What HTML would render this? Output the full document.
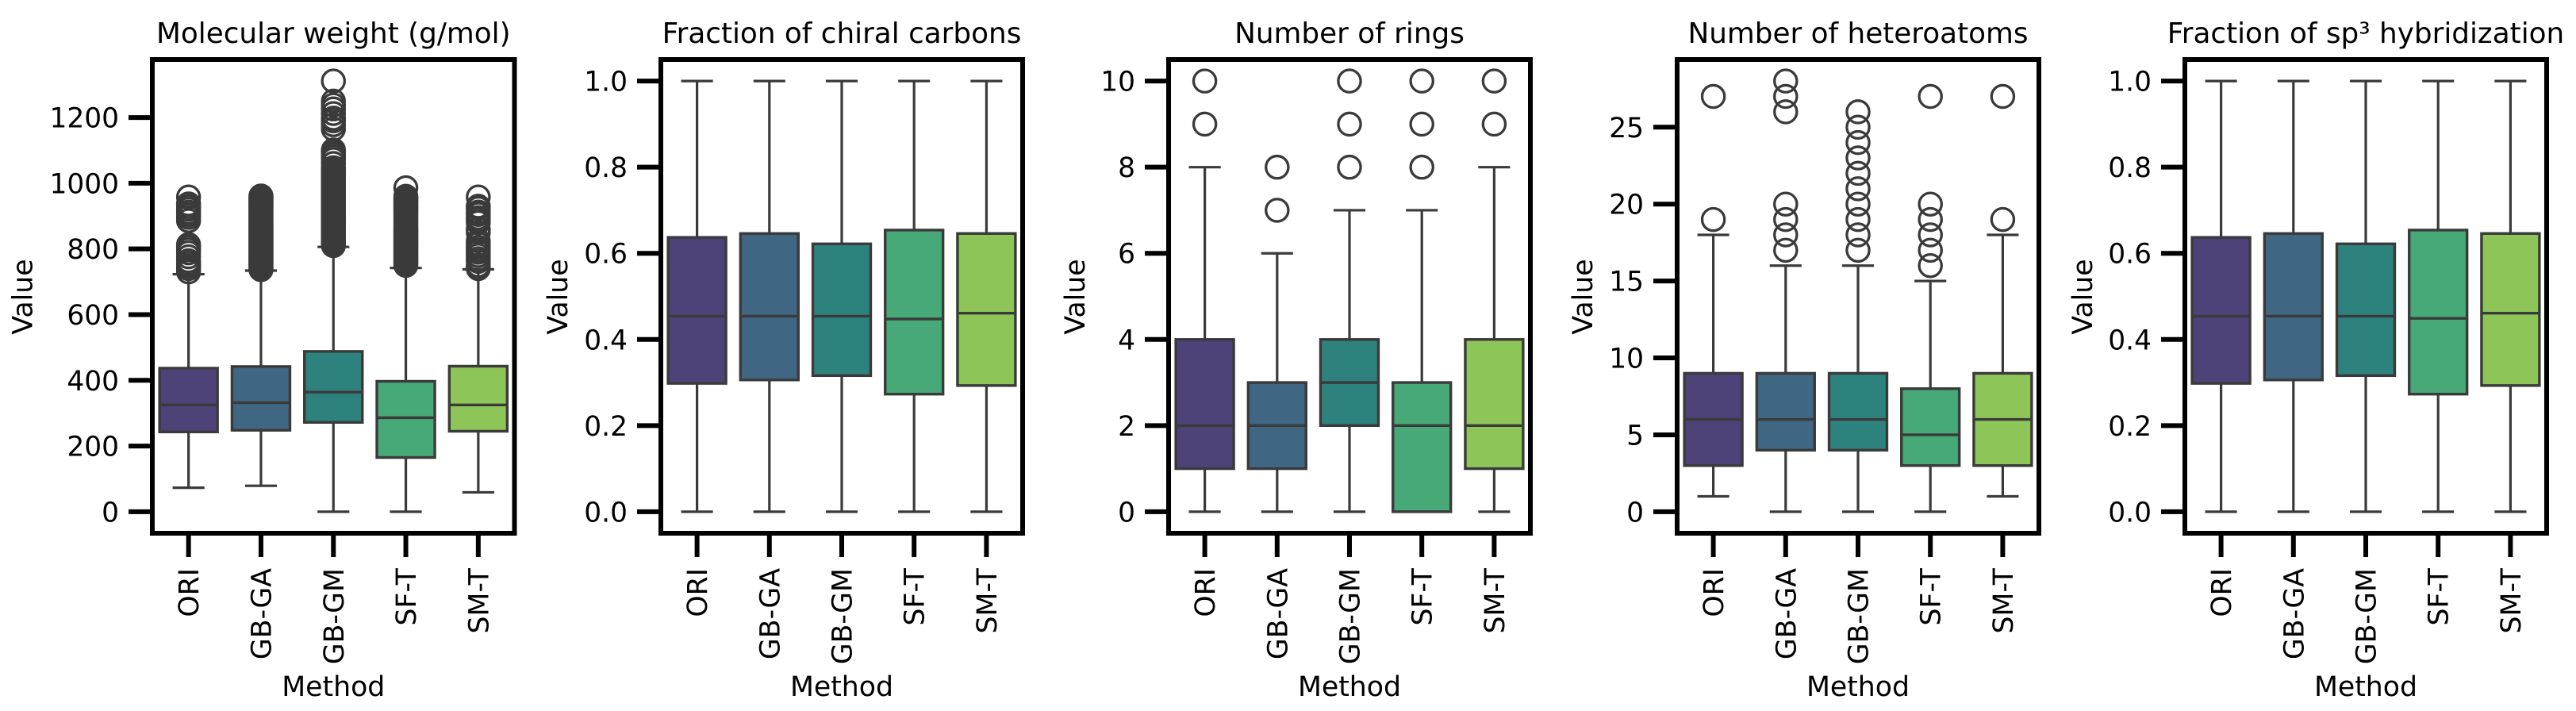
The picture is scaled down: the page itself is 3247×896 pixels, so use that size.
<!DOCTYPE html>
<html lang="en">
<head>
<meta charset="utf-8">
<title>Molecular property box plots by method</title>
<style>
  html, body { margin: 0; padding: 0; background: #fff; width: 3247px; height: 896px; overflow: hidden; }
  svg { display: block; }
  text { font-family: "DejaVu Sans", "Liberation Sans", sans-serif; fill: #000; }
  .title { font-size: 35.8px; text-anchor: middle; }
  .axis-label { font-size: 34.7px; text-anchor: middle; }
  .frame { fill: none; stroke: #000; stroke-width: 6; }
</style>
</head>
<body>
<svg id="figure" width="3247" height="896" viewBox="0 0 3247 896" xmlns="http://www.w3.org/2000/svg">
  <rect x="0" y="0" width="3247" height="896" fill="#fff"/>

  <g id="panel-weight">
    <text class="title" x="420.3" y="54">Molecular weight (g/mol)</text>
    <text class="axis-label" x="420.3" y="877">Method</text>
    <text class="axis-label" transform="translate(40.5 374) rotate(-90)">Value</text>
  </g>
  <g id="panel-chiral">
    <text class="title" x="1061" y="54">Fraction of chiral carbons</text>
    <text class="axis-label" x="1061" y="877">Method</text>
    <text class="axis-label" transform="translate(715 374) rotate(-90)">Value</text>
  </g>
  <g id="panel-rings">
    <text class="title" x="1701" y="54">Number of rings</text>
    <text class="axis-label" x="1701" y="877">Method</text>
    <text class="axis-label" transform="translate(1367 374) rotate(-90)">Value</text>
  </g>
  <g id="panel-hetero">
    <text class="title" x="2342" y="54">Number of heteroatoms</text>
    <text class="axis-label" x="2342" y="877">Method</text>
    <text class="axis-label" transform="translate(2007 374) rotate(-90)">Value</text>
  </g>
  <g id="panel-sp3">
    <text class="title" x="2982" y="54">Fraction of sp³ hybridization</text>
    <text class="axis-label" x="2982" y="877">Method</text>
    <text class="axis-label" transform="translate(2637 374) rotate(-90)">Value</text>
  </g>
</svg>

<script>
// ---------- shared categories ----------
const categories = ["ORI", "GB-GA", "GB-GM", "SF-T", "SM-T"];

// ---------- molecular weight ----------
const weightDomain = [-65.5, 1376.5];
const weightTicks = [0, 200, 400, 600, 800, 1000, 1200];
const weightLow = [73, 79, 0, 0, 59];
const weightQ1 = [243, 248, 272, 165, 245];
const weightMedian = [325, 332, 364, 286, 325];
const weightQ3 = [437, 442, 488, 397, 443];
const weightHigh = [723, 734, 806, 742, 738];
const weightOutliersOri = [958, 937, 929, 921, 912, 904, 896, 886, 813, 805, 797, 788, 776, 764, 756, 748, 740, 730];
const weightOutliersGa = [961, 958, 955, 951, 947, 943, 939, 934, 930, 926, 922, 918, 913, 909, 905, 900, 896, 892, 887, 883, 879, 874, 870, 866, 862, 857, 853, 849, 845, 841, 836, 832, 828, 824, 820, 815, 811, 807, 803, 799, 795, 790, 786, 782, 778, 774, 770, 765, 761, 757, 753, 749, 745, 741, 737];
const weightOutliersGm = [1311, 1250, 1238, 1226, 1212, 1198, 1190, 1178, 1165, 1101, 1095, 1088, 1080, 1072, 1060, 1047, 1040, 1033, 1026, 1020, 1014, 1008, 1002, 996, 990, 984, 978, 972, 966, 960, 954, 948, 942, 936, 930, 924, 918, 912, 906, 900, 894, 888, 882, 876, 870, 864, 858, 852, 846, 840, 834, 828, 822, 816, 810];
const weightOutliersSf = [986, 960, 955, 949, 944, 938, 932, 926, 921, 915, 908, 902, 896, 889, 884, 878, 871, 866, 860, 855, 850, 845, 840, 835, 830, 825, 820, 815, 810, 805, 800, 795, 790, 785, 780, 775, 770, 765, 760, 755, 750];
const weightOutliersSm = [958, 930, 923, 912, 905, 895, 888, 880, 860, 850, 825, 815, 805, 797, 790, 780, 770, 762, 750, 745, 740];

// ---------- fraction of chiral carbons ----------
const chiralDomain = [-0.05, 1.05];
const chiralTicks = ["0.0", "0.2", "0.4", "0.6", "0.8", "1.0"];
const chiralLow = [0, 0, 0, 0, 0];
const chiralQ1 = [0.298, 0.306, 0.316, 0.273, 0.293];
const chiralMedian = [0.454, 0.454, 0.454, 0.4475, 0.461];
const chiralQ3 = [0.637, 0.646, 0.622, 0.654, 0.646];
const chiralHigh = [1, 1, 1, 1, 1];

// ---------- number of rings ----------
const ringsDomain = [-0.5, 10.5];
const ringsTicks = [0, 2, 4, 6, 8, 10];
const ringsLow = [0, 0, 0, 0, 0];
const ringsQ1 = [1, 1, 2, 0, 1];
const ringsMedian = [2, 2, 3, 2, 2];
const ringsQ3 = [4, 3, 4, 3, 4];
const ringsHigh = [8, 6, 7, 7, 8];
const ringsOutliersOri = [9, 10];
const ringsOutliersGa = [7, 8];
const ringsOutliersGm = [8, 9, 10];
const ringsOutliersSf = [8, 9, 10];
const ringsOutliersSm = [9, 10];

// ---------- number of heteroatoms ----------
const heteroDomain = [-1.4, 29.4];
const heteroTicks = [0, 5, 10, 15, 20, 25];
const heteroLow = [1, 0, 0, 0, 1];
const heteroQ1 = [3, 4, 4, 3, 3];
const heteroMedian = [6, 6, 6, 5, 6];
const heteroQ3 = [9, 9, 9, 8, 9];
const heteroHigh = [18, 16, 16, 15, 18];
const heteroOutliersOri = [19, 27];
const heteroOutliersGa = [17, 18, 19, 20, 26, 27, 28];
const heteroOutliersGm = [17, 18, 19, 20, 21, 22, 23, 24, 25, 26];
const heteroOutliersSf = [16, 17, 18, 19, 20, 27];
const heteroOutliersSm = [19, 27];

// ---------- fraction of sp3 hybridization ----------
const sp3Domain = [-0.05, 1.05];
const sp3Ticks = ["0.0", "0.2", "0.4", "0.6", "0.8", "1.0"];
const sp3Low = [0, 0, 0, 0, 0];
const sp3Q1 = [0.298, 0.306, 0.316, 0.273, 0.293];
const sp3Median = [0.454, 0.454, 0.454, 0.449, 0.461];
const sp3Q3 = [0.637, 0.646, 0.622, 0.654, 0.646];
const sp3High = [1, 1, 1, 1, 1];

// ---------- drawing ----------
const boxColors = ["#4d4379", "#3f6682", "#2e827e", "#47a977", "#8ec558"];
const lineColor = "#3a3a3a";
const SVG_NS = "http://www.w3.org/2000/svg";

function make(parent, tag, attrs) {
  const el = document.createElementNS(SVG_NS, tag);
  for (const key in attrs) el.setAttribute(key, attrs[key]);
  parent.appendChild(el);
  return el;
}

function drawPanel(panelId, left, right, domain, ticks, low, q1, median, q3, high, outliers) {
  const group = document.getElementById(panelId);
  const top = 75, bottom = 672;
  const band = (right - left) / categories.length;
  const xAxis = function (i) { return left + (i + 0.5) * band; };
  const yAxis = function (v) { return bottom - (Number(v) - domain[0]) / (domain[1] - domain[0]) * (bottom - top); };

  categories.forEach(function (category, i) {
    const cx = xAxis(i);
    const boxHalf = band * 0.4;
    const capHalf = band * 0.22;

    const whiskerLow = make(group, "line", { x1: cx, x2: cx, y1: yAxis(q1[i]), y2: yAxis(low[i]), stroke: lineColor, "stroke-width": 3.2 });
    
    

    const whiskerHigh = make(group, "line", { x1: cx, x2: cx, y1: yAxis(q3[i]), y2: yAxis(high[i]), stroke: lineColor, "stroke-width": 3.2 });
    
    

    const capLow = make(group, "line", { x1: cx - capHalf, x2: cx + capHalf, y1: yAxis(low[i]), y2: yAxis(low[i]), stroke: lineColor, "stroke-width": 3.2 });
    
    

    const capHigh = make(group, "line", { x1: cx - capHalf, x2: cx + capHalf, y1: yAxis(high[i]), y2: yAxis(high[i]), stroke: lineColor, "stroke-width": 3.2 });
    
    

    const box = make(group, "rect", { x: cx - boxHalf, y: yAxis(q3[i]), width: boxHalf * 2, height: yAxis(q1[i]) - yAxis(q3[i]), fill: boxColors[i], stroke: lineColor, "stroke-width": 3.4 });
    
    

    const medianLine = make(group, "line", { x1: cx - boxHalf, x2: cx + boxHalf, y1: yAxis(median[i]), y2: yAxis(median[i]), stroke: lineColor, "stroke-width": 3.4 });
    
    

    (outliers[i] || []).forEach(function (value) {
      const dot = make(group, "circle", { cx: cx, cy: yAxis(value), r: 14.1, fill: "none", stroke: lineColor, "stroke-width": 3.3 });
      
      
    });

    const xTick = make(group, "line", { x1: cx, x2: cx, y1: bottom + 3, y2: bottom + 30, stroke: "#000", "stroke-width": 6 });
    
    

    const xLabel = make(group, "text", { transform: "translate(" + (cx + 12.5) + " 716) rotate(-90)", "text-anchor": "end", "font-size": 34.7 });
    xLabel.textContent = category;
    
    
  });

  ticks.forEach(function (tick) {
    const y = yAxis(tick);
    const yTick = make(group, "line", { x1: left - 30, x2: left - 3, y1: y, y2: y, stroke: "#000", "stroke-width": 6 });
    
    

    const yLabel = make(group, "text", { x: left - 42, y: y + 12.5, "text-anchor": "end", "font-size": 34.4 });
    yLabel.textContent = String(tick);
    
    
  });

  const frame = make(group, "rect", { class: "frame", x: left, y: top, width: right - left, height: bottom - top });
  
  
}

drawPanel("panel-weight", 192, 648.5, weightDomain, weightTicks, weightLow, weightQ1, weightMedian, weightQ3, weightHigh,
  [weightOutliersOri, weightOutliersGa, weightOutliersGm, weightOutliersSf, weightOutliersSm]);
drawPanel("panel-chiral", 833, 1289, chiralDomain, chiralTicks, chiralLow, chiralQ1, chiralMedian, chiralQ3, chiralHigh,
  [[], [], [], [], []]);
drawPanel("panel-rings", 1473, 1929, ringsDomain, ringsTicks, ringsLow, ringsQ1, ringsMedian, ringsQ3, ringsHigh,
  [ringsOutliersOri, ringsOutliersGa, ringsOutliersGm, ringsOutliersSf, ringsOutliersSm]);
drawPanel("panel-hetero", 2114, 2570, heteroDomain, heteroTicks, heteroLow, heteroQ1, heteroMedian, heteroQ3, heteroHigh,
  [heteroOutliersOri, heteroOutliersGa, heteroOutliersGm, heteroOutliersSf, heteroOutliersSm]);
drawPanel("panel-sp3", 2754, 3210, sp3Domain, sp3Ticks, sp3Low, sp3Q1, sp3Median, sp3Q3, sp3High,
  [[], [], [], [], []]);
</script>
</body>
</html>
